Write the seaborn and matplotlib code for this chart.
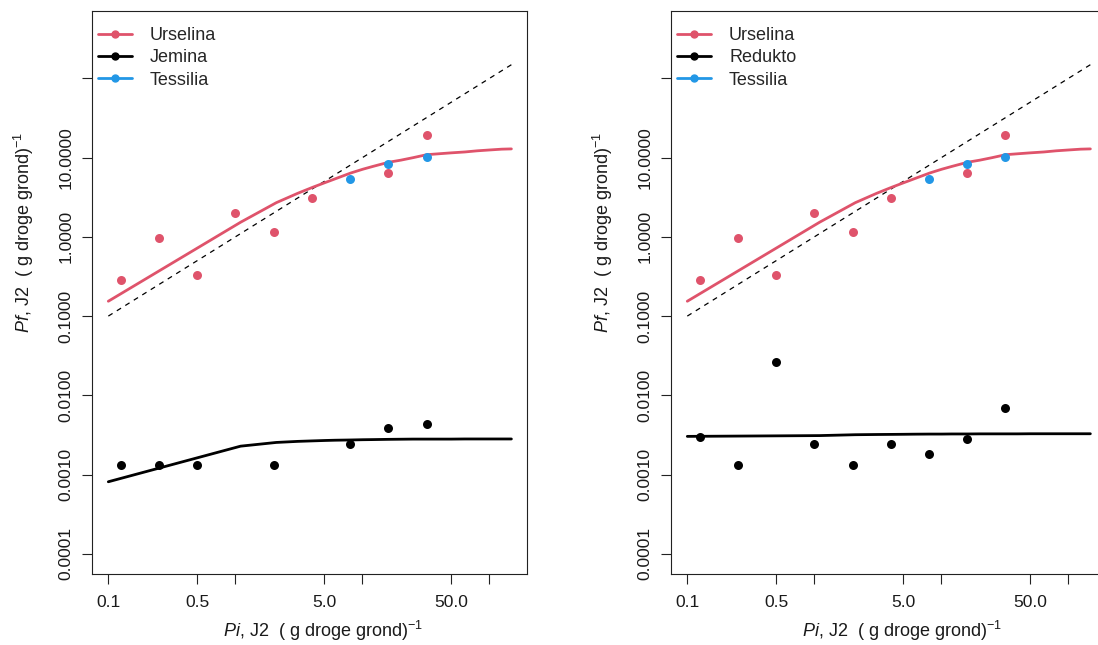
"""Pf/Pi plots for Urselina, Jemina, Redukto and Tessilia."""

import matplotlib

matplotlib.use("Agg")
import matplotlib.pyplot as plt
from matplotlib.lines import Line2D
from matplotlib.ticker import FixedLocator, FixedFormatter, NullLocator
import seaborn as sns

# -----------------------------------------------------------#
#                           DATA                             #
# -----------------------------------------------------------#

# fitted curves (sampled at the same Pi values as the original curve)
curve_pi = [0.1, 1.1, 2.1, 3.1, 4.1, 5.1, 6.1, 8.1, 10.1, 12.1, 16.1, 20.1,
            25.1, 32.1, 40.1, 50.1, 64.1, 80.1, 100.1, 125.1, 149.1]
urselina_fit = [0.154, 1.53, 2.70, 3.55, 4.25, 4.85, 5.40, 6.40, 7.15, 7.75,
                8.75, 9.30, 10.0, 10.9, 11.2, 11.5, 11.8, 12.2, 12.5, 12.8, 12.9]
jemina_fit = [0.00081, 0.00228, 0.00254, 0.00262, 0.00266, 0.00269, 0.00271,
              0.00273, 0.00275, 0.00276, 0.00278, 0.00279, 0.00280, 0.00280,
              0.00280, 0.00280, 0.00281, 0.00281, 0.00281, 0.00281, 0.00281]
redukto_fit = [0.00303, 0.00310, 0.00318, 0.00320, 0.00321, 0.00322, 0.00323,
               0.00324, 0.00324, 0.00325, 0.00325, 0.00326, 0.00326, 0.00326,
               0.00326, 0.00327, 0.00327, 0.00327, 0.00327, 0.00327, 0.00327]

# 1:1 reference line
unity_pi = [0.1, 149.1]

# observations
urselina_pi = [0.125, 0.25, 0.5, 1, 2, 4, 16, 32]
urselina_pf = [0.289, 0.96, 0.331, 2.01, 1.14, 3.1, 6.4, 19.5]
tessilia_pi = [8, 16, 32]
tessilia_pf = [5.45, 8.3, 10.2]
jemina_pi = [0.125, 0.25, 0.5, 2, 8, 16, 32]
jemina_pf = [0.0013, 0.0013, 0.0013, 0.0013, 0.00246, 0.00381, 0.00436]
redukto_pi = [0.125, 0.25, 0.5, 1, 2, 4, 8, 16, 32]
redukto_pf = [0.0030, 0.0013, 0.0264, 0.00244, 0.0013, 0.00244, 0.00181,
              0.0028, 0.0069]

x_ticks = [0.1, 0.5, 1, 5, 10, 50, 100]
x_tick_labels = ["0.1", "0.5", "", "5.0", "", "50.0", ""]
y_ticks = [0.0001, 0.001, 0.01, 0.1, 1, 10, 100]
y_tick_labels = ["0.0001", "0.0010", "0.0100", "0.1000", "1.0000", "10.0000", ""]

RED = "#DF536B"
BLUE = "#2297E6"
BLACK = "black"

sns.set_style("ticks")
plt.rcParams["font.family"] = ["Liberation Sans", "DejaVu Sans"]
plt.rcParams["mathtext.fontset"] = "custom"
plt.rcParams["mathtext.rm"] = "Liberation Sans"
plt.rcParams["mathtext.it"] = "Liberation Sans:italic"


def plot_panel(ax, low_name, low_fit, low_pi, low_pf):
    """Draws one Pf versus Pi panel."""
    sns.lineplot(x=unity_pi, y=unity_pi, ax=ax, color="black", lw=0.9,
                 linestyle=(0, (4, 4)), zorder=2)
    sns.lineplot(x=curve_pi, y=urselina_fit, ax=ax, color=RED, lw=2, zorder=3)
    sns.lineplot(x=curve_pi, y=low_fit, ax=ax, color=BLACK, lw=2, zorder=3)

    sns.scatterplot(x=urselina_pi, y=urselina_pf, ax=ax, color=RED, s=42,
                    linewidth=0, zorder=4)
    sns.scatterplot(x=tessilia_pi, y=tessilia_pf, ax=ax, color=BLUE, s=42,
                    linewidth=0, zorder=5)
    sns.scatterplot(x=low_pi, y=low_pf, ax=ax, color=BLACK, s=42,
                    linewidth=0, zorder=4)

    ax.set_xscale("log")
    ax.set_yscale("log")
    ax.set_xlim(0.0744, 198)
    ax.set_ylim(5.55e-5, 711)

    ax.xaxis.set_major_locator(FixedLocator(x_ticks))
    ax.xaxis.set_major_formatter(FixedFormatter(x_tick_labels))
    ax.xaxis.set_minor_locator(NullLocator())
    ax.yaxis.set_major_locator(FixedLocator(y_ticks))
    ax.yaxis.set_major_formatter(FixedFormatter(y_tick_labels))
    ax.yaxis.set_minor_locator(NullLocator())
    ax.tick_params(axis="both", length=7.4, width=0.8, color="#222222",
                   labelsize=12.5, labelcolor="#1a1a1a", direction="out")
    ax.tick_params(axis="x", pad=8)
    ax.tick_params(axis="y", pad=6)
    for lab in ax.get_yticklabels():
        lab.set_rotation(90)
        lab.set_va("center")

    for side in ["top", "right", "bottom", "left"]:
        ax.spines[side].set_visible(True)
        ax.spines[side].set_linewidth(0.8)
        ax.spines[side].set_color("#222222")

    ax.set_xlabel(r"$\mathit{Pi}$, J2  ( g droge grond)$^{-1}$", fontsize=13,
                  color="#1a1a1a")
    ax.set_ylabel(r"$\mathit{Pf}$, J2  ( g droge grond)$^{-1}$", fontsize=13,
                  color="#1a1a1a")
    ax.xaxis.set_label_coords(0.531, -0.079)
    ax.yaxis.set_label_coords(-0.129, 0.606)

    handles = [
        Line2D([], [], color=RED, lw=2, marker="o", markersize=5),
        Line2D([], [], color=BLACK, lw=2, marker="o", markersize=5),
        Line2D([], [], color=BLUE, lw=2, marker="o", markersize=5),
    ]
    ax.legend(handles, ["Urselina", low_name, "Tessilia"], loc="upper left",
              bbox_to_anchor=(0.013, 0.9716), frameon=False, fontsize=13,
              handlelength=1.9, handletextpad=1.0, labelspacing=0.3,
              borderpad=0.0, borderaxespad=0.0)


fig = plt.figure(figsize=(10.98, 6.45), dpi=100)
ax_left = fig.add_axes([0.0838, 0.1101, 0.3962, 0.8729])
ax_right = fig.add_axes([0.6111, 0.1101, 0.3962, 0.8729])

plot_panel(ax_left, "Jemina", jemina_fit, jemina_pi, jemina_pf)
plot_panel(ax_right, "Redukto", redukto_fit, redukto_pi, redukto_pf)

fig.savefig("out.png", dpi=100)
